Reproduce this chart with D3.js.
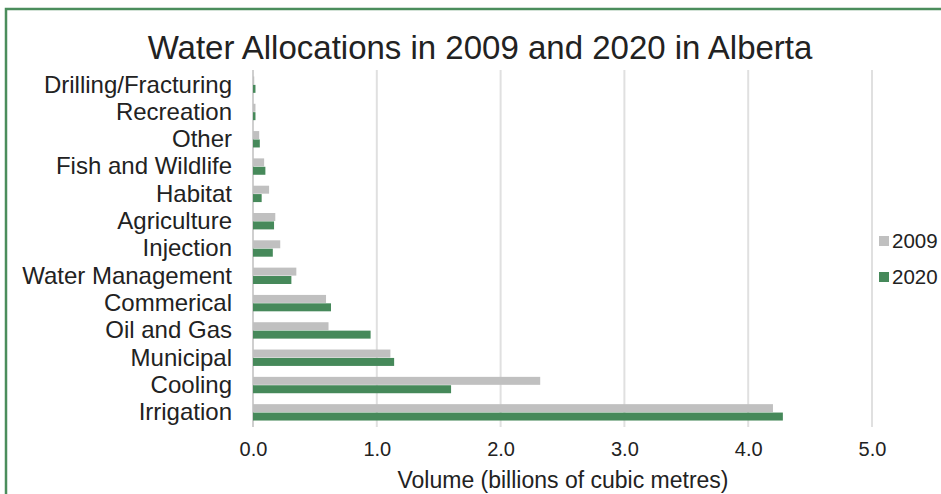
<!DOCTYPE html>
<html>
<head>
<meta charset="utf-8">
<script src="https://cdn.jsdelivr.net/npm/d3@7"></script>
<style>
  body { margin: 0; background: #fff; }
  text { font-family: "Liberation Sans", Arial, sans-serif; fill: #222; }
</style>
</head>
<body>
<div id="canvas"></div>
<script>
const categories = ['Drilling/Fracturing', 'Recreation', 'Other', 'Fish and Wildlife', 'Habitat',
  'Agriculture', 'Injection', 'Water Management', 'Commerical', 'Oil and Gas', 'Municipal',
  'Cooling', 'Irrigation']
const values2009 = [0.01, 0.02, 0.05, 0.09, 0.13, 0.18, 0.22, 0.35, 0.59, 0.61, 1.11, 2.32, 4.2]
const values2020 = [0.02, 0.02, 0.055, 0.1, 0.07, 0.17, 0.16, 0.31, 0.63, 0.95, 1.14, 1.6, 4.28]
const seriesNames = ['2009', '2020']
const xTicks = [0, 1, 2, 3, 4, 5]

const width = 941
const height = 494
const colors = { '2009': '#c0c0c0', '2020': '#46895a' }

const svg = d3.select('#canvas').append('svg')
  .attr('width', width)
  .attr('height', height)

// green frame
svg.append('rect')
  .attr('x', 6)
  .attr('y', 9)
  .attr('width', width + 10)
  .attr('height', height + 10)
  .attr('fill', 'none')
  .attr('stroke', '#4b8d5c')
  .attr('stroke-width', 2.5)

const x = d3.scaleLinear().domain([0, 5]).range([253, 872])
const y = d3.scaleBand().domain(categories).range([71, 426]).paddingInner(0.4).paddingOuter(0.2)
const ySub = d3.scaleBand().domain(seriesNames).range([0, y.bandwidth()]).paddingInner(0.05)

// gridlines
svg.append('g')
  .selectAll('line')
  .data(xTicks)
  .join('line')
  .attr('x1', (d) => x(d))
  .attr('x2', (d) => x(d))
  .attr('y1', 70)
  .attr('y2', 427)
  .attr('stroke', (d) => (d === 0 ? '#cfcfcf' : '#e0e0e0'))
  .attr('stroke-width', 2)

// bars
const rows = categories.map((c, i) => ({ cat: c, vals: [values2009[i], values2020[i]] }))
const groups = svg.append('g')
  .selectAll('g')
  .data(rows)
  .join('g')
  .attr('transform', (d) => `translate(0,${y(d.cat)})`)

groups.selectAll('rect')
  .data((d) => d.vals.map((v, i) => ({ key: seriesNames[i], v })))
  .join('rect')
  .attr('x', x(0))
  .attr('y', (d) => ySub(d.key))
  .attr('width', (d) => x(d.v) - x(0))
  .attr('height', ySub.bandwidth())
  .attr('fill', (d) => colors[d.key])

// category labels
svg.append('g')
  .selectAll('text')
  .data(categories)
  .join('text')
  .attr('x', 232)
  .attr('y', (d) => y(d) + y.bandwidth() / 2)
  .attr('dy', '0.33em')
  .attr('text-anchor', 'end')
  .style('font-size', '24px')
  .text((d) => d)

// x tick labels
const xAxis = svg.append('g')
  .attr('transform', 'translate(0,427)')
  .call(d3.axisBottom(x).tickValues(xTicks).tickFormat(d3.format('.1f')).tickSize(0).tickPadding(15))
xAxis.select('.domain').remove()
xAxis.selectAll('text')
  .style('font-size', '20px')
  .style('font-family', '"Liberation Sans", Arial, sans-serif')
  .attr('fill', '#222')

// title
svg.append('text')
  .attr('x', 480)
  .attr('y', 59)
  .attr('text-anchor', 'middle')
  .style('font-size', '33px')
  .text('Water Allocations in 2009 and 2020 in Alberta')

// axis title
svg.append('text')
  .attr('x', 563)
  .attr('y', 488)
  .attr('text-anchor', 'middle')
  .style('font-size', '23px')
  .text('Volume (billions of cubic metres)')

// legend
const legend = svg.append('g')
  .selectAll('g')
  .data(seriesNames)
  .join('g')
  .attr('transform', (d, i) => `translate(879,${241 + i * 36})`)
legend.append('rect')
  .attr('x', 0)
  .attr('y', -5)
  .attr('width', 10)
  .attr('height', 10)
  .attr('fill', (d) => colors[d])
legend.append('text')
  .attr('x', 13)
  .attr('dy', '0.36em')
  .style('font-size', '20.5px')
  .text((d) => d)
</script>
</body>
</html>
